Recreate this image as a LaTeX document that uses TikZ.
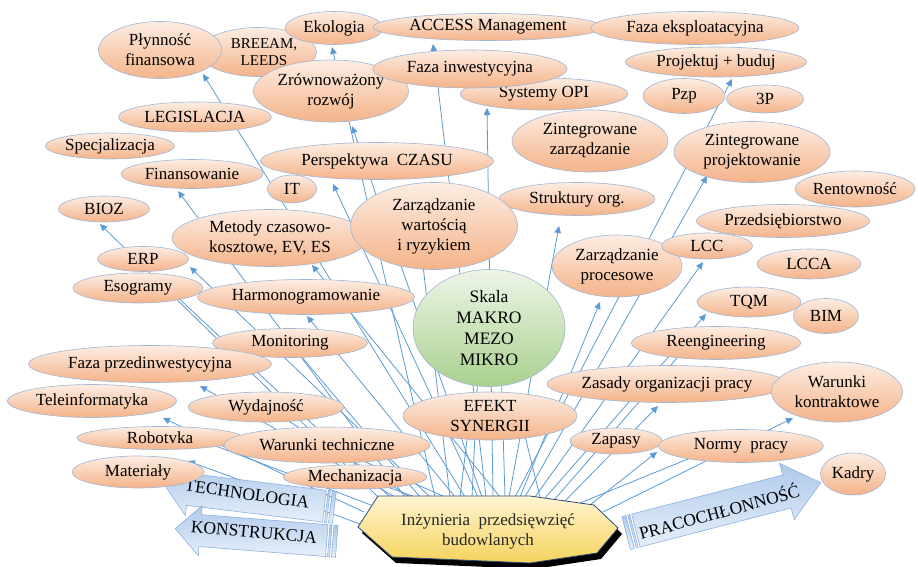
\documentclass[tikz,border=0pt]{standalone}
\usepackage{fontspec}
\setmainfont{Liberation Serif}
\usetikzlibrary{arrows.meta,shapes.geometric}
\definecolor{ovtop}{HTML}{FDEDE3}
\definecolor{ovbot}{HTML}{F4B389}
\definecolor{ovline}{HTML}{9FB6D6}
\definecolor{grtop}{HTML}{EEF5E8}
\definecolor{grbot}{HTML}{A9D18E}
\definecolor{conblue}{HTML}{5B9BD5}
\definecolor{artop}{HTML}{AFCAEB}
\definecolor{arbot}{HTML}{E6EFFA}
\definecolor{arline}{HTML}{8DB1DE}
\definecolor{octop}{HTML}{FFF4D2}
\definecolor{ocbot}{HTML}{F5D35C}
\definecolor{ocline}{HTML}{2E4A7A}
\tikzset{
  oval/.style={ellipse, draw=ovline, line width=0.6pt, top color=ovtop, bottom color=ovbot, inner sep=0pt},
  greenoval/.style={ellipse, draw=ovline, line width=0.6pt, top color=grtop, bottom color=grbot, inner sep=0pt},
  lbl/.style={font=\fontsize{17}{20}\selectfont, align=center, inner sep=0pt, text=black},
  con/.style={draw=conblue, line width=0.8pt},
  arr/.style={con, -{Triangle[length=7pt,width=6.5pt]}},
  bigarr/.style={draw=arline, line width=0.6pt, top color=artop, bottom color=arbot},
  bigtxt/.style={font=\fontsize{17.5}{20}\selectfont, inner sep=0pt, text=black},
  octo/.style={draw=ocline, line width=0.8pt, top color=octop, bottom color=ocbot},
}
\newcommand\myov[6]{\node[oval,minimum width=#4pt,minimum height=#5pt] (#1) at (#2,#3) {};\node[lbl] (#1-t) at (#1) {#6};}
\begin{document}
\begin{tikzpicture}[x=1pt,y=-1pt]
\useasboundingbox (0,0) rectangle (918,567);
\fill[white] (0,0) rectangle (918,567);

% connectors (behind everything)
\foreach \n/\sx/\sy/\tx/\ty in {
  1/465/497/203/74, 2/405/497/178/191, 3/378/497/100/224, 4/430/497/190/267,
  5/478/497/333/184, 6/500/497/312/265, 7/455/497/307/316, 8/395/497/200/386,
  9/364/512/163/418, 10/360/524/188/461, 11/435/497/332/47, 12/486/497/433/44,
  13/482/497/352/126, 14/493/497/487/108, 15/509/497/559/226, 16/520/497/600/302,
  17/515/497/732/79, 18/525/497/707/176, 19/535/497/703/262, 20/545/498/706/314,
  21/565/501/658/406, 22/590/505/657/452, 23/603/512/793/418}
{
  \coordinate (s\n) at (\sx,\sy);
  \coordinate (e\n) at (\tx,\ty);
  \draw[arr] (s\n) -- (e\n);
}
\foreach \n/\sx/\sy/\tx/\ty in {
  1/390/497/170/290, 2/420/497/290/343, 3/410/497/266/407, 4/371/505/200/440,
  5/445/497/327/445, 6/415/497/360/477, 7/460/497/470/416, 8/472/497/480/330,
  9/505/497/500/330, 10/540/497/520/416, 11/555/499/690/343, 12/580/503/720/446,
  13/450/497/420/240}
{
  \coordinate (hs\n) at (\sx,\sy);
  \coordinate (he\n) at (\tx,\ty);
  \draw[con] (hs\n) -- (he\n);
}

% big arrows on the left
\begin{scope}[shift={(250,497)},rotate=-7]
  \path[bigarr] (-85,0) -- (-62,-26) -- (-62,-16) -- (75,-16) -- (75,16) -- (-62,16) -- (-62,26) -- cycle;
  \path[bigarr] (77,-16) rectangle (79,16);
  \path[bigarr] (81,-16) rectangle (85,16);
\end{scope}
\node[bigtxt, rotate=-8] (techt) at (247,494) {TECHNOLOGIA};
\begin{scope}[shift={(256,535)},rotate=-4.5]
  \path[bigarr] (-81,0) -- (-56,-25) -- (-56,-16) -- (71,-16) -- (71,16) -- (-56,16) -- (-56,25) -- cycle;
  \path[bigarr] (73,-16) rectangle (75,16);
  \path[bigarr] (77,-16) rectangle (81,16);
\end{scope}
\node[bigtxt, rotate=-5] (konst) at (254,532) {KONSTRUKCJA};
% big arrow on the right
\begin{scope}[shift={(723,508)},rotate=14.5]
  \path[bigarr] (101,0) -- (66,-29) -- (66,-17) -- (-90,-17) -- (-90,17) -- (66,17) -- (66,29) -- cycle;
  \path[bigarr] (-92,-17) rectangle (-94,17);
  \path[bigarr] (-96,-17) rectangle (-100,17);
\end{scope}
\node[bigtxt, rotate=15] (prac) at (719,511) {PRACOCHŁONNOŚĆ};

% ellipses, back to front
\node[oval,minimum width=117pt,minimum height=49pt] (breeam) at (258,52) {};
\node[lbl,font=\fontsize{15}{17.5}\selectfont] (breeam-t) at (264,52) {BREEAM,\\LEEDS};
\myov{plyn}{160}{50}{123}{57}{Płynność\\finansowa}
\myov{eko}{334}{28}{98}{33}{Ekologia}
\myov{access}{488}{27}{230}{27}{ACCESS Management}
\myov{fexp}{695}{28}{208}{33}{Faza eksploatacyjna}
\myov{proj}{716}{62}{181}{30}{Projektuj + buduj}
\myov{pzp}{684}{96}{82}{35}{Pzp}
\myov{ptri}{765}{99}{77}{28}{3P}
\myov{opi}{544}{94}{168}{32}{Systemy OPI}
\myov{zrow}{331}{91}{155}{62}{Zrównoważony\\rozwój}
\myov{finw}{470}{69}{194}{38}{Faza inwestycyjna}
\myov{legis}{195}{117}{153}{30}{LEGISLACJA}
\myov{spec}{110}{146}{129}{26}{Specjalizacja}
\myov{finans}{192}{174}{142}{29}{Finansowanie}
\myov{persp}{377}{161}{233}{37}{Perspektywa~~CZASU}
\myov{it}{292}{189}{49}{28}{IT}
\myov{zzarz}{590}{141}{156}{62}{Zintegrowane\\zarządzanie}
\myov{zproj}{752}{152}{156}{61}{Zintegrowane\\projektowanie}
\myov{rent}{855}{189}{120}{36}{Rentowność}
\myov{przed}{783}{221}{173}{33}{Przedsiębiorstwo}
\myov{strukt}{577}{199}{156}{33}{Struktury org.}
\myov{metody}{270}{238}{196}{57}{Metody czasowo-\\kosztowe, EV, ES}
\myov{zwart}{434}{226}{167}{87}{Zarządzanie\\wartością\\i ryzykiem}
\myov{bioz}{104}{209}{91}{26}{BIOZ}
\myov{erp}{143}{259}{91}{25}{ERP}
\myov{eso}{138}{288}{130}{30}{Esogramy}
\myov{harm}{306}{297}{217}{35}{Harmonogramowanie}
\myov{zproc}{617}{266}{130}{62}{Zarządzanie\\procesowe}
\myov{lcc}{707}{246}{91}{26}{LCC}
\myov{lcca}{809}{264}{104}{30}{LCCA}
\myov{tqm}{749}{302}{104}{30}{TQM}
\myov{bim}{826}{316}{65}{35}{BIM}
\node[greenoval,minimum width=152pt,minimum height=117pt] (skala) at (489,328) {};
\node[lbl,font=\fontsize{17.5}{21}\selectfont] (skala-t) at (skala) {Skala\\MAKRO\\MEZO\\MIKRO};
\myov{monit}{290}{343}{155}{29}{Monitoring}
\myov{fprzed}{150}{364}{243}{37}{Faza przedinwestycyjna}
\myov{reeng}{716}{343}{169}{33}{Reengineering}
\myov{zasady}{667}{384}{240}{37}{Zasady organizacji pracy}
\myov{wkontr}{837}{392}{131}{60}{Warunki\\kontraktowe}
\myov{tele}{92}{401}{169}{33}{Teleinformatyka}
\myov{wyd}{266}{407}{156}{30}{Wydajność}
\myov{efekt}{490}{416}{174}{48}{EFEKT\\SYNERGII}
\myov{robot}{160}{438}{166}{23}{Robotvka}
\myov{wtech}{327}{445}{206}{36}{Warunki techniczne}
\myov{zapasy}{616}{441}{92}{26}{Zapasy}
\myov{normy}{741}{446}{165}{33}{Normy~~pracy}
\myov{mech}{355}{477}{144}{24}{Mechanizacja}
\myov{mat}{138}{472}{132}{32}{Materiały}
\myov{kadry}{853}{474}{65}{42}{Kadry}

% central octagon with shadow
\fill[black] (362,533) -- (382,502) -- (534,502) -- (599,511) -- (622,534) -- (601,559) -- (534,569) -- (396,563) -- cycle;
\path[octo] (358,527) -- (378,496) -- (530,496) -- (594,505) -- (618,528) -- (597,553) -- (530,563) -- (392,557) -- cycle;
\node[lbl,text=black!85] (ipb) at (488,531) {Inżynieria~~przedsięwzięć\\budowlanych};
\end{tikzpicture}
\end{document}
